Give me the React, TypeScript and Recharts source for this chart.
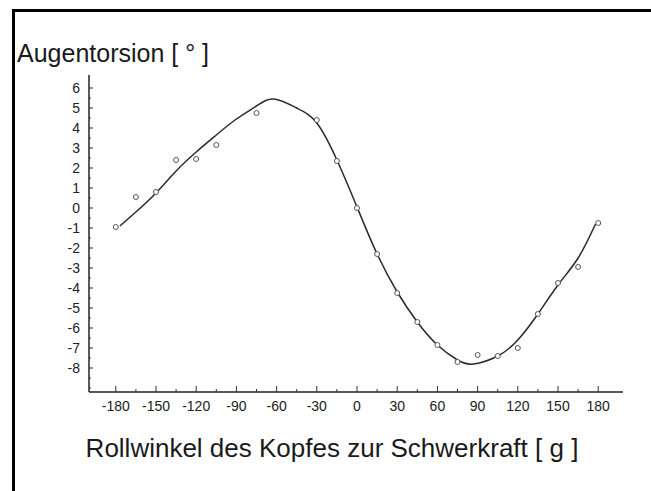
import { ComposedChart, Line, Scatter, XAxis, YAxis } from "recharts";

// fitted curve
const curveAngles = [-177, -165, -150, -135, -120, -105, -90, -75, -62, -45, -30, -15, 0, 15, 30, 45, 60, 75, 87, 105, 120, 135, 150, 165, 178];
const curveValues = [-0.9, -0.2, 0.75, 1.85, 2.8, 3.65, 4.45, 5.1, 5.45, 5.0, 4.25, 2.4, 0.05, -2.3, -4.2, -5.7, -6.85, -7.6, -7.8, -7.4, -6.6, -5.3, -3.85, -2.5, -0.8];

// measured points
const pointAngles = [-180, -165, -150, -135, -120, -105, -75, -30, -15, 0, 15, 30, 45, 60, 75, 90, 105, 120, 135, 150, 165, 180];
const pointValues = [-0.95, 0.55, 0.8, 2.4, 2.45, 3.15, 4.75, 4.4, 2.35, 0, -2.3, -4.25, -5.7, -6.85, -7.7, -7.35, -7.4, -7.0, -5.3, -3.75, -2.95, -0.75];

const xTicks = [-180, -165, -150, -135, -120, -105, -90, -75, -60, -45, -30, -15, 0, 15, 30, 45, 60, 75, 90, 105, 120, 135, 150, 165, 180];
const xLabels = [-180, -150, -120, -90, -60, -30, 0, 30, 60, 90, 120, 150, 180];
const yTicks = [-9, -8.5, -8, -7.5, -7, -6.5, -6, -5.5, -5, -4.5, -4, -3.5, -3, -2.5, -2, -1.5, -1, -0.5, 0, 0.5, 1, 1.5, 2, 2.5, 3, 3.5, 4, 4.5, 5, 5.5, 6];
const yLabels = [-8, -7, -6, -5, -4, -3, -2, -1, 0, 1, 2, 3, 4, 5, 6];

const curveData = curveAngles.map((a, i) => ({ a, v: curveValues[i] }));
const pointData = pointAngles.map((a, i) => ({ a, v: pointValues[i] }));

const font = "'Liberation Sans', Arial, sans-serif";

function XTick({ x, y, payload }: any) {
  const major = xLabels.includes(payload.value);
  return (
    <g>
      <line x1={x} x2={x} y1={y} y2={y - (major ? 6 : 3)} stroke="#333" strokeWidth={1} />
      {major && (
        <text x={x} y={y + 19} textAnchor="middle" fontSize={14} fontFamily={font} fill="#222">
          {String(payload.value)}
        </text>
      )}
    </g>
  );
}

function YTick({ x, y, payload }: any) {
  const major = yLabels.includes(payload.value);
  return (
    <g>
      <line x1={x} x2={x + (major ? 4 : 2)} y1={y} y2={y} stroke="#333" strokeWidth={1} />
      {major && (
        <text x={x - 9} y={y + 5} textAnchor="end" fontSize={14} fontFamily={font} fill="#222">
          {String(payload.value)}
        </text>
      )}
    </g>
  );
}

export default function App() {
  return (
    <div style={{ position: "absolute", left: 0, top: 0, width: 651, height: 491, overflow: "hidden", background: "#fff", fontFamily: font }}>
      <div style={{ position: "absolute", left: 12, top: 9, width: 700, height: 600, borderLeft: "3px solid #000", borderTop: "3px solid #000" }} />
      <div style={{ position: "absolute", left: 17, top: 41, fontSize: 25, lineHeight: "25px", color: "#1a1a1a", whiteSpace: "nowrap" }}>
        Augentorsion [ ° ]
      </div>
      <div style={{ position: "absolute", left: 0, width: 664, top: 435, textAlign: "center", fontSize: 26, lineHeight: "26px", color: "#1a1a1a", whiteSpace: "nowrap" }}>
        Rollwinkel des Kopfes zur Schwerkraft [ g ]
      </div>
      <div style={{ position: "absolute", left: 0, top: 0 }}>
        <ComposedChart width={651} height={491} margin={{ top: 75, right: 28, bottom: 0, left: 0 }}>
          <XAxis
            dataKey="a"
            type="number"
            domain={[-200, 198.5]}
            allowDataOverflow
            ticks={xTicks}
            interval={0}
            tickSize={0}
            tickMargin={0}
            tickLine={false}
            tick={<XTick />}
            height={99}
            axisLine={{ stroke: "#222", strokeWidth: 1.5 }}
          />
          <YAxis
            dataKey="v"
            type="number"
            domain={[-9.2, 6.65]}
            allowDataOverflow
            ticks={yTicks}
            interval={0}
            tickSize={0}
            tickMargin={0}
            tickLine={false}
            tick={<YTick />}
            width={89}
            axisLine={{ stroke: "#222", strokeWidth: 1.5 }}
          />
          <Line
            data={curveData}
            dataKey="v"
            type="natural"
            dot={false}
            stroke="#2a2a2a"
            strokeWidth={1.5}
            isAnimationActive={false}
          />
          <Scatter
            data={pointData}
            dataKey="v"
            isAnimationActive={false}
            shape={(p: any) => <circle cx={p.cx} cy={p.cy} r={2.5} fill="#fff" stroke="#555" strokeWidth={1} />}
          />
        </ComposedChart>
      </div>
    </div>
  );
}
